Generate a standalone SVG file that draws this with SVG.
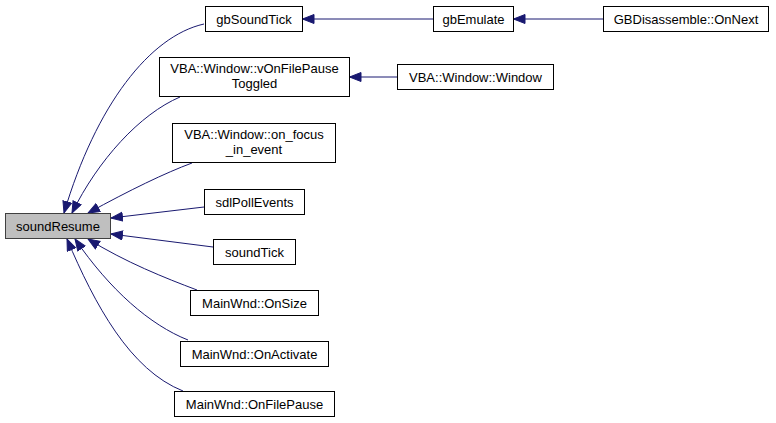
<svg xmlns="http://www.w3.org/2000/svg" width="776" height="423" viewBox="0 0 776 423">
<defs>
<style>
.n rect{fill:#ffffff;stroke:#000000;stroke-width:1}
.n.cur rect{fill:#bfbfbf;stroke:#404040}
.n text{font-family:"Liberation Sans",Arial,sans-serif;font-size:13px;fill:#000000;text-anchor:middle}
.e path{fill:none;stroke:#191970;stroke-width:1;marker-end:url(#ah)}
</style>
<marker id="ah" markerUnits="userSpaceOnUse" markerWidth="14" markerHeight="12" refX="12" refY="5" orient="auto">
<path d="M0.5,0.5 L12,5 L0.5,9.5 Z" fill="#191970" stroke="#191970" stroke-width="1"/>
</marker>
</defs>
<rect width="776" height="423" fill="#ffffff"/>
<g id="edges" class="e">
<path d="M433.5,19 L302.5,19"/>
<path d="M603.5,19 L513.5,19"/>
<path d="M397.5,77 L349.5,77"/>
<path d="M204,24 C150,36 96,105 64,213"/>
<path d="M180,97 C140,114 98,160 72,213"/>
<path d="M192,163 C165,173 130,190 88,213"/>
<path d="M204,207 L111,218"/>
<path d="M213,247 L111,234"/>
<path d="M197,290 C165,278 125,262 88,239"/>
<path d="M188,340 C150,325 110,290 75,239"/>
<path d="M183,391 C130,370 95,305 67,239"/>
</g>
<g id="soundResume" class="n cur"><rect x="5.5" y="213.5" width="105" height="25"/><text x="58" y="231">soundResume</text></g>
<g id="gbSoundTick" class="n"><rect x="205.5" y="6.5" width="97" height="25"/><text x="254" y="23.5">gbSoundTick</text></g>
<g id="gbEmulate" class="n"><rect x="433.5" y="6.5" width="80" height="25"/><text x="473.5" y="23.5">gbEmulate</text></g>
<g id="GBDisassemble_OnNext" class="n"><rect x="603.5" y="6.5" width="165" height="25"/><text x="686" y="23.5">GBDisassemble::OnNext</text></g>
<g id="vOnFilePauseToggled" class="n"><rect x="159.5" y="57.5" width="190" height="39"/><text x="254.5" y="73">VBA::Window::vOnFilePause</text><text x="254.5" y="88">Toggled</text></g>
<g id="VBA_Window_Window" class="n"><rect x="397.5" y="64.5" width="156" height="25"/><text x="475.5" y="81.5">VBA::Window::Window</text></g>
<g id="on_focus_in_event" class="n"><rect x="172.5" y="123.5" width="163" height="39"/><text x="254" y="139">VBA::Window::on_focus</text><text x="254" y="154">_in_event</text></g>
<g id="sdlPollEvents" class="n"><rect x="204.5" y="189.5" width="100" height="25"/><text x="254.5" y="206.5">sdlPollEvents</text></g>
<g id="soundTick" class="n"><rect x="213.5" y="239.5" width="82" height="25"/><text x="254.5" y="256.5">soundTick</text></g>
<g id="MainWnd_OnSize" class="n"><rect x="190.5" y="290.5" width="128" height="25"/><text x="254.5" y="307.5">MainWnd::OnSize</text></g>
<g id="MainWnd_OnActivate" class="n"><rect x="180.5" y="341.5" width="148" height="25"/><text x="254.5" y="358.5">MainWnd::OnActivate</text></g>
<g id="MainWnd_OnFilePause" class="n"><rect x="174.5" y="391.5" width="160" height="25"/><text x="254.5" y="408.5">MainWnd::OnFilePause</text></g>
</svg>
